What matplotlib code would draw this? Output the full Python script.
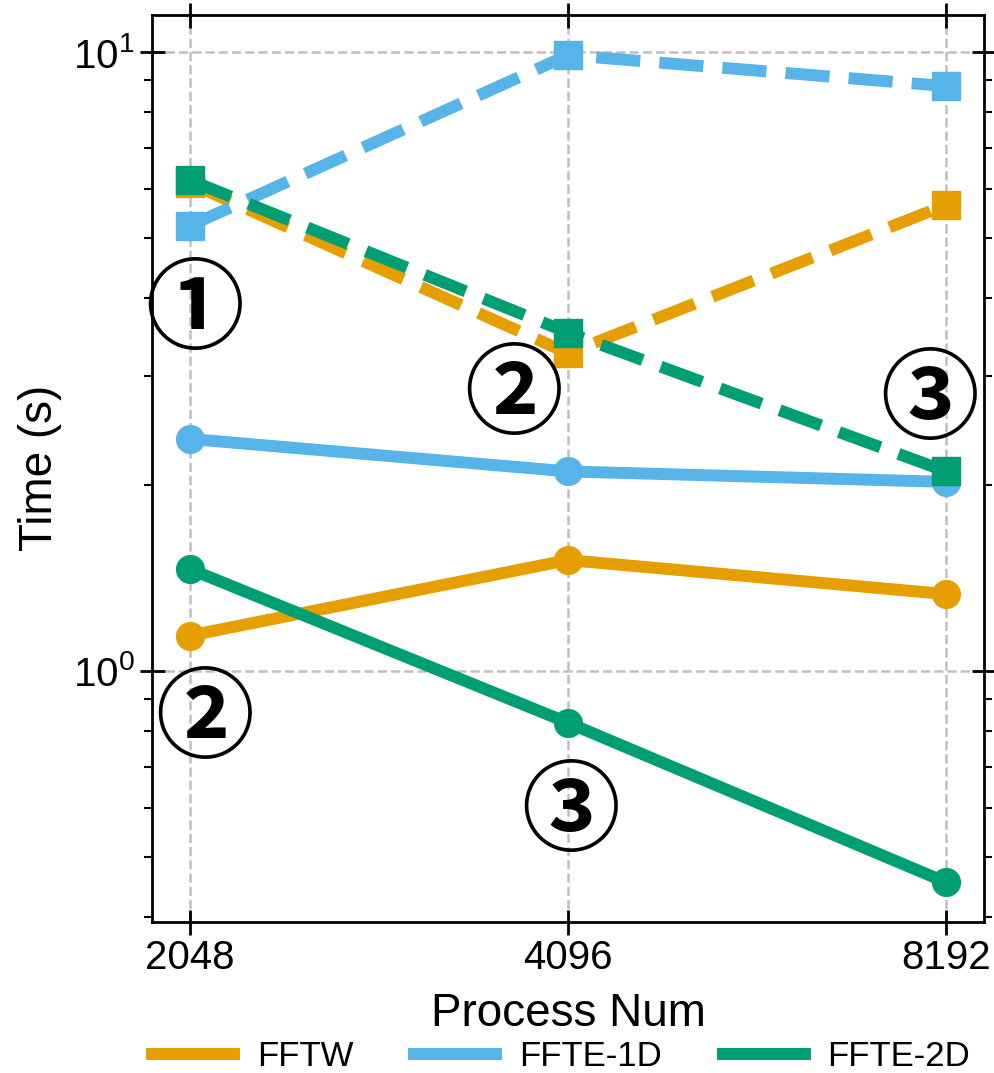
import numpy as np
import matplotlib.pyplot as plt
from matplotlib.lines import Line2D

procs = ['2048', '4096', '8192']
names = ['FFTW', 'FFTE-1D', 'FFTE-2D']
colors = ['#E69F00', '#56B4E9', '#009E73']

# solid lines (circles)
solid_fftw = [1.14, 1.51, 1.33]
solid_ffte1d = [2.37, 2.10, 2.02]
solid_ffte2d = [1.46, 0.824, 0.455]
# dashed lines (squares)
dash_fftw = [6.14, 3.26, 5.66]
dash_ffte1d = [5.24, 9.89, 8.81]
dash_ffte2d = [6.21, 3.52, 2.10]

# circled labels: text, x index, y value
notes = ['\u2460', '\u2461', '\u2461', '\u2462', '\u2462']
note_x = [0.013, 0.04, 0.856, 1.007, 1.955]
note_y = [3.80, 0.83, 2.77, 0.588, 2.72]

plt.rcParams['font.family'] = ['Liberation Sans', 'DejaVu Sans']
plt.rcParams['mathtext.fontset'] = 'custom'
plt.rcParams['mathtext.rm'] = 'Liberation Sans'
plt.rcParams['mathtext.it'] = 'Liberation Sans:italic'
plt.rcParams['mathtext.bf'] = 'Liberation Sans:bold'

fig, ax = plt.subplots(figsize=(9.94, 10.73), dpi=100)
fig.subplots_adjust(left=0.153, right=0.99, top=0.986, bottom=0.141)

x = np.arange(len(procs))
lw = 8.6
for ys, c in zip([solid_fftw, solid_ffte1d, solid_ffte2d], colors):
    ax.plot(x, ys, '-', color=c, lw=lw, marker='o', ms=20, zorder=3)
for ys, c in zip([dash_fftw, dash_ffte1d, dash_ffte2d], colors):
    ax.plot(x, ys, '--', color=c, lw=lw, marker='s', ms=20, zorder=3)

for t, xx, yy in zip(notes, note_x, note_y):
    ax.text(xx, yy, t, fontsize=71, fontweight='heavy', ha='center', va='center',
            family=['Noto Sans CJK SC', 'DejaVu Sans'], zorder=4)

ax.set_yscale('log')
ax.set_xlim(-0.1, 2.1)
ax.set_ylim(0.393, 11.48)
ax.set_xticks(x)
ax.set_xticklabels(procs)
ax.set_xlabel('Process Num', fontsize=33, labelpad=11)
ax.set_ylabel('Time (s)', fontsize=33, labelpad=8)
ax.grid(True, which='major', ls='--', color='#c0c0c0', lw=1.8)
ax.tick_params(which='major', direction='inout', length=18, width=2,
               labelsize=29, top=True, right=True)
ax.tick_params(which='minor', direction='out', length=6, width=1.5,
               top=True, right=True)
ax.tick_params(axis='y', which='minor', labelleft=False)
for s in ax.spines.values():
    s.set_linewidth(2)

handles = [Line2D([0], [0], color=c, lw=lw) for c in colors]
fig.legend(handles, names, loc='center', ncol=3, frameon=False,
           fontsize=25, handlelength=2.36, handletextpad=0.66,
           columnspacing=1.75, bbox_to_anchor=(0.5647, 0.015))

fig.savefig('out.png', dpi=100)
